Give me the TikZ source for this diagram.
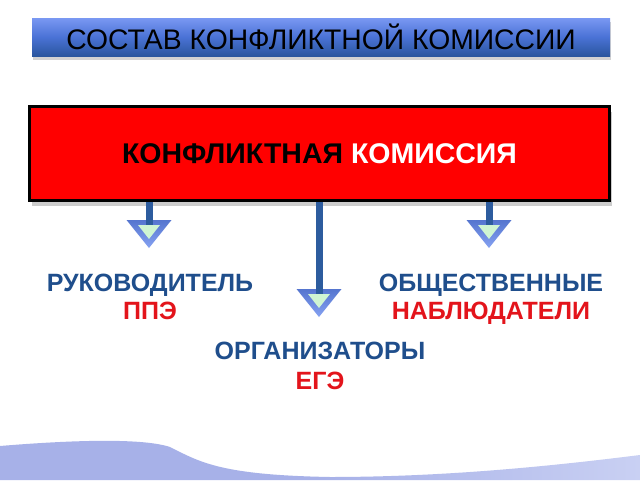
\documentclass[tikz,border=0pt]{standalone}
\usepackage{fontspec}
\setmainfont{Liberation Sans}
\usetikzlibrary{shadows,calc}
\definecolor{titletop}{HTML}{7A98F2}
\definecolor{titlemid}{HTML}{4A72D6}
\definecolor{titlebot}{HTML}{2A569E}
\definecolor{lblue}{HTML}{1F4E8C}
\definecolor{lred}{HTML}{E3141B}
\definecolor{stemcol}{HTML}{2D5C9E}
\definecolor{headtop}{HTML}{5575CF}
\definecolor{headbot}{HTML}{86A2F2}
\definecolor{headgreen}{HTML}{CFF5D2}
\definecolor{wavecol}{HTML}{A7B1E8}
\definecolor{wavelight}{HTML}{C9D0F3}
\tikzset{
  titlebar/.style={rectangle, minimum width=578pt, minimum height=38pt, inner sep=0pt,
    top color=titletop, bottom color=titlebot, middle color=titlemid,
    drop shadow={opacity=0.35, shadow xshift=1pt, shadow yshift=-4pt},
    font=\fontsize{28.3}{30}\selectfont, text=black},
  redbox/.style={rectangle, draw=black, line width=3pt, fill=red, minimum width=580pt,
    minimum height=94pt, inner sep=0pt,
    drop shadow={opacity=0.4, shadow xshift=2pt, shadow yshift=-5pt},
    font=\bfseries\fontsize{28.5}{30}\selectfont},
  stemline/.style={line width=7pt, draw=stemcol},
  lbl/.style={align=center, font=\bfseries\fontsize{25}{28}\selectfont, inner sep=0pt},
  lblb/.style={align=center, font=\bfseries\fontsize{25}{30}\selectfont, inner sep=0pt},
  headpic/.pic={
    \shade[top color=headtop, bottom color=headbot] (-22.5,0) -- (22.5,0) -- (0,28) -- cycle;
    \fill[headgreen] (-11,5) -- (11,5) -- (0,19) -- cycle;
    \fill[stemcol] (-3.5,0) rectangle (3.5,5);
  }
}
\begin{document}
\begin{tikzpicture}[x=1pt,y=-1pt]
\useasboundingbox (0,0) rectangle (640,480);
\fill[white] (0,0) rectangle (640,480);
% bottom wave
\shade[left color=wavecol, right color=wavelight, middle color=wavecol]
  (0,446) .. controls (60,441) and (140,437) .. (170,447)
  .. controls (200,462) and (220,475) .. (330,477)
  .. controls (450,477) and (560,465) .. (640,455)
  -- (640,480) -- (0,480) -- cycle;
% title
\node[titlebar] (title) at (321,37) {СОСТАВ КОНФЛИКТНОЙ КОМИССИИ};
% main box
\node[redbox] (kk) at (319.5,153.5) {\color{black}КОНФЛИКТНАЯ \color{white}КОМИССИЯ};
% arrow tips
\coordinate (a1) at (149,220);
\coordinate (a2) at (319,289);
\coordinate (a3) at (489,220);
\draw[stemline] (kk.south -| a1) -- (a1);
\draw[stemline] (kk.south -| a2) -- (a2);
\draw[stemline] (kk.south -| a3) -- (a3);
\pic at (a1) {headpic};
\pic at (a2) {headpic};
\pic at (a3) {headpic};
% labels
\node[lbl] (ruk) at (150,297) {\color{lblue}РУКОВОДИТЕЛЬ\\\color{lred}ППЭ};
\node[lbl] (obs) at (491,299) {\color{lblue}ОБЩЕСТВЕННЫЕ\\\color{lred}НАБЛЮДАТЕЛИ};
\node[lblb] (org) at (320,366) {\color{lblue}ОРГАНИЗАТОРЫ\\\color{lred}ЕГЭ};
\end{tikzpicture}
\end{document}
